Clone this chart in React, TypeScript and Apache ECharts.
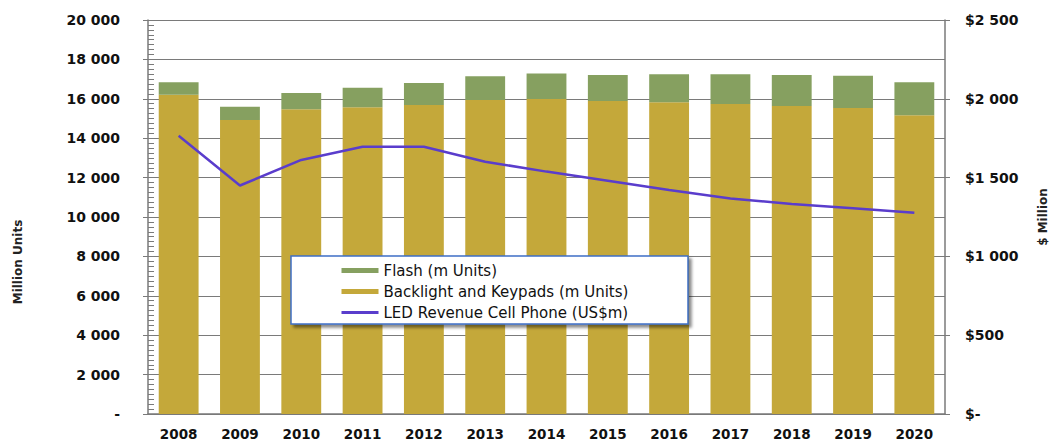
import React, { useEffect, useRef } from "react";
import * as echarts from "echarts";

const years = ["2008", "2009", "2010", "2011", "2012", "2013", "2014", "2015", "2016", "2017", "2018", "2019", "2020"];
const backlight = [16200, 14920, 15470, 15570, 15690, 15940, 15990, 15890, 15820, 15740, 15640, 15530, 15160];
const flash = [640, 680, 820, 990, 1110, 1200, 1300, 1320, 1420, 1500, 1570, 1645, 1680];
const revenue = [1765, 1450, 1612, 1696, 1696, 1601, 1538, 1480, 1421, 1368, 1332, 1305, 1277];

const GOLD = "#c4a83a";
const GREEN = "#86a060";
const PURPLE = "#5a3dcc";
const AXIS = "#7a7a7a";
const FONT = "DejaVu Sans";

const sep = (v: number) => String(v).replace(/\B(?=(\d{3})+(?!\d))/g, " ");

export default function App() {
  const ref = useRef<HTMLDivElement>(null);
  useEffect(() => {
    const chart = echarts.init(ref.current!, null, { renderer: "svg" });
    chart.setOption({
      animation: false,
      backgroundColor: "#ffffff",
      grid: { left: 148, right: 114, top: 20, bottom: 29 },
      xAxis: {
        type: "category",
        data: years,
        axisLine: { lineStyle: { color: AXIS, width: 1.5 } },
        axisTick: { show: false },
        axisLabel: { color: "#111", fontFamily: FONT, fontWeight: "bold", fontSize: 13.5, margin: 13 },
      },
      yAxis: [
        {
          type: "value",
          min: 0,
          max: 20000,
          interval: 2000,
          position: "left",
          axisLine: { show: true, lineStyle: { color: AXIS, width: 1.5 } },
          axisTick: { show: true, length: 5, lineStyle: { color: AXIS } },
          splitLine: { show: true, lineStyle: { color: AXIS, width: 1 } },
          axisLabel: {
            color: "#111",
            fontFamily: FONT,
            fontWeight: "bold",
            fontSize: 14,
            margin: 28,
            formatter: (v: number) => (v === 0 ? "-" : sep(v)),
          },
        },
        {
          type: "value",
          min: 0,
          max: 2500,
          interval: 500,
          position: "right",
          axisLine: { show: true, lineStyle: { color: AXIS, width: 1.5 } },
          axisTick: { show: true, length: 5, lineStyle: { color: AXIS } },
          splitLine: { show: false },
          axisLabel: {
            color: "#111",
            fontFamily: FONT,
            fontWeight: "bold",
            fontSize: 14,
            margin: 20,
            formatter: (v: number) => (v === 0 ? "$-" : "$" + sep(v)),
          },
        },
        {
          type: "value",
          min: 0,
          max: 20000,
          interval: 250,
          position: "left",
          axisLine: { show: false },
          axisTick: { show: true, inside: true, length: 6, lineStyle: { color: AXIS } },
          splitLine: { show: false },
          axisLabel: { show: false },
        },
      ],
      legend: {
        orient: "vertical",
        left: 335,
        top: 258,
        itemWidth: 37,
        itemHeight: 5,
        itemGap: 6,
        textStyle: { fontFamily: FONT, fontSize: 15, color: "#111" },
        data: [
          { name: "Flash (m Units)", icon: "rect" },
          { name: "Backlight and Keypads (m Units)", icon: "rect" },
          {
            name: "LED Revenue Cell Phone (US$m)",
            itemStyle: { opacity: 0 },
            lineStyle: { width: 3, color: PURPLE },
          },
        ],
      },
      graphic: [
        {
          type: "rect",
          z: 3,
          shape: { x: 291, y: 256, width: 397, height: 68 },
          style: {
            fill: "#ffffff",
            stroke: "#3f6fc6",
            lineWidth: 1.5,
            shadowBlur: 3,
            shadowOffsetX: 3,
            shadowOffsetY: 3,
            shadowColor: "rgba(0,0,0,0.45)",
          },
        },
        {
          type: "text",
          x: 18,
          y: 262,
          rotation: Math.PI / 2,
          style: {
            text: "Million Units",
            font: `bold 12px "${FONT}"`,
            fill: "#222",
            align: "center",
            verticalAlign: "middle",
          },
        },
        {
          type: "text",
          x: 1043,
          y: 217,
          rotation: Math.PI / 2,
          style: {
            text: "$ Million",
            font: `bold 12px "${FONT}"`,
            fill: "#222",
            align: "center",
            verticalAlign: "middle",
          },
        },
      ],
      series: [
        {
          name: "Backlight and Keypads (m Units)",
          type: "bar",
          stack: "units",
          data: backlight,
          barCategoryGap: "35%",
          itemStyle: { color: GOLD },
        },
        {
          name: "Flash (m Units)",
          type: "bar",
          stack: "units",
          data: flash,
          barCategoryGap: "35%",
          itemStyle: { color: GREEN },
        },
        {
          name: "LED Revenue Cell Phone (US$m)",
          type: "line",
          yAxisIndex: 1,
          data: revenue,
          symbol: "none",
          z: 5,
          lineStyle: { color: PURPLE, width: 2.5 },
          itemStyle: { color: PURPLE },
        },
      ],
    });
    return () => chart.dispose();
  }, []);
  return <div ref={ref} style={{ position: "fixed", left: 0, top: 0, width: 1059, height: 443 }} />;
}
